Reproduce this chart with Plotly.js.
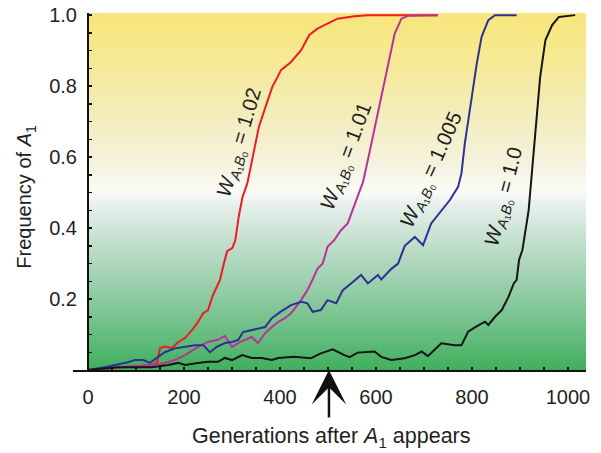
<!DOCTYPE html>
<html>
<head>
<meta charset="utf-8">
<script src="https://cdn.plot.ly/plotly-3.0.1.min.js"></script>
<style>html,body{margin:0;padding:0;background:#fff;}#chart{width:601px;height:453px;}</style>
</head>
<body>
<div id="chart"></div>
<script>
// ---- data ----
const redX = [0,63,100,133,144,150,160,175,188,202,217,229,240,250,260,269,275,283,290,301,307,314,322,332,342,356,370,384,395,402,423,444,461,478,499,520,555,583,729];
const redY = [0,0.006,0.01,0.014,0.022,0.062,0.066,0.062,0.079,0.09,0.113,0.135,0.16,0.169,0.21,0.234,0.254,0.30,0.335,0.344,0.366,0.432,0.488,0.526,0.59,0.685,0.742,0.798,0.826,0.845,0.868,0.901,0.944,0.962,0.976,0.99,0.997,1.0,1.0];

const magX = [0,63,133,160,181,202,229,250,271,285,300,313,327,341,354,369,383,396,410,423,444,457,468,478,489,499,513,527,541,562,573,586,597,607,614,628,639,653,667,729];
const magY = [0,0.008,0.014,0.02,0.028,0.042,0.065,0.079,0.085,0.096,0.065,0.076,0.085,0.093,0.076,0.104,0.121,0.135,0.146,0.16,0.197,0.225,0.255,0.285,0.30,0.347,0.366,0.394,0.413,0.49,0.53,0.61,0.68,0.75,0.798,0.883,0.948,0.99,0.998,1.0];

const bluX = [0,35,83,98,115,129,146,160,181,202,223,240,254,268,285,300,313,323,341,354,369,383,400,423,444,457,468,485,499,517,531,548,569,583,604,611,632,646,660,681,698,715,736,754,771,778,785,792,799,810,820,834,848,893];
const bluY = [0,0.008,0.022,0.028,0.028,0.02,0.037,0.05,0.061,0.066,0.07,0.07,0.05,0.065,0.076,0.079,0.085,0.107,0.113,0.118,0.121,0.146,0.163,0.183,0.192,0.188,0.164,0.169,0.197,0.188,0.225,0.244,0.268,0.244,0.268,0.255,0.285,0.30,0.35,0.375,0.352,0.413,0.45,0.479,0.516,0.554,0.638,0.704,0.77,0.864,0.939,0.986,1.0,1.0];

const blkX = [0,63,133,167,188,202,229,250,271,285,300,321,341,362,383,396,429,464,485,510,534,545,562,597,611,632,660,681,695,708,736,764,778,792,806,827,834,848,862,876,887,893,898,905,918,928,935,942,953,967,981,1015];
const blkY = [0,0.008,0.008,0.014,0.02,0.014,0.02,0.023,0.023,0.034,0.028,0.042,0.034,0.034,0.028,0.034,0.037,0.033,0.047,0.058,0.042,0.036,0.049,0.052,0.037,0.028,0.033,0.042,0.052,0.039,0.075,0.07,0.07,0.108,0.12,0.136,0.127,0.15,0.169,0.206,0.244,0.254,0.31,0.338,0.45,0.61,0.732,0.826,0.93,0.972,0.995,1.0];

const seriesLabels = ["1.02","1.01","1.005","1.0"];
const labelX = [315, 539, 716, 867];
const labelY = [0.641, 0.603, 0.563, 0.487];
const labelAngle = [-73.6, -69.7, -66, -75.7];

const yTickVals = [0.2,0.4,0.6,0.8,1.0];
const yTickText = ["0.2","0.4","0.6","0.8","1.0"];
const xTickVals = [0,200,400,600,800,1000];
const xTickText = ["0","200","400","600","800","1000"];
const arrowGen = 502;

// ---- styling ----
const FONT = "Liberation Sans, Arial, Helvetica, sans-serif";
const colors = ["#ec1c24","#b8329b","#2e3192","#151515"];
const xs = [redX, magX, bluX, blkX];
const ys = [redY, magY, bluY, blkY];

const traces = xs.map((x,i)=>({
  x: x, y: ys[i], type:'scatter', mode:'lines',
  line:{color:colors[i], width:2}, hoverinfo:'skip', showlegend:false
}));

const grad = "<svg xmlns='http://www.w3.org/2000/svg' width='10' height='100' viewBox='0 0 10 100' preserveAspectRatio='none'>" +
 "<defs><linearGradient id='g' x1='0' y1='0' x2='0' y2='1'>" +
 "<stop offset='0' stop-color='#f7e67a'/>" +
 "<stop offset='0.13' stop-color='#f6e994'/>" +
 "<stop offset='0.30' stop-color='#f3edc0'/>" +
 "<stop offset='0.43' stop-color='#f5f3e0'/>" +
 "<stop offset='0.50' stop-color='#fbfbf6'/>" +
 "<stop offset='0.54' stop-color='#e6efec'/>" +
 "<stop offset='0.66' stop-color='#bcdcc8'/>" +
 "<stop offset='0.80' stop-color='#8ccaa0'/>" +
 "<stop offset='0.93' stop-color='#5cb976'/>" +
 "<stop offset='1' stop-color='#3faf5a'/>" +
 "</linearGradient></defs><rect x='0' y='0' width='10' height='100' fill='url(#g)'/></svg>";
const gradURL = "data:image/svg+xml;charset=utf-8," + encodeURIComponent(grad);

const xMin = -31.25, xMax = 1037.5, yMax = 1.006;

const annotations = seriesLabels.map((s,i)=>({
  x: labelX[i], y: labelY[i], xref:'x', yref:'y',
  text: "<i>W</i><sub><i>A</i>\u2081<i>B</i>\u2080</sub> = " + s,
  showarrow:false, textangle: labelAngle[i],
  font:{family:FONT, size:20.5, color:'#231f20'}
}));

annotations.push({
  x: arrowGen, y: 0, xref:'x', yref:'y', text:'', showarrow:true,
  ax:0, ay:49, arrowhead:3, arrowsize:2.3, arrowwidth:2.5, arrowcolor:'#111'
});
annotations.push({
  x: 0.504, y: -0.188, xref:'paper', yref:'paper', xanchor:'center', yanchor:'middle',
  text:"Generations after <i>A</i><sub>1</sub> appears", showarrow:false,
  font:{family:FONT, size:21.5, color:'#231f20'}
});
annotations.push({
  x: -0.0926, y: 0.487, xref:'paper', yref:'paper', xanchor:'center', yanchor:'middle',
  text:"Frequency of <i>A</i><sub>1</sub>", showarrow:false, textangle:-90,
  font:{family:FONT, size:20, color:'#231f20'}
});

const layout = {
  width:601, height:453,
  margin:{l:73, r:15, t:13, b:83},
  paper_bgcolor:'#ffffff', plot_bgcolor:'#ffffff',
  font:{family:FONT, size:20, color:'#231f20'},
  xaxis:{
    range:[xMin, xMax], showgrid:false, zeroline:false,
    showline:true, linecolor:'#111', linewidth:2,
    tickvals:xTickVals, ticktext:xTickText,
    ticks:'inside', ticklen:3, tickwidth:1.5, tickcolor:'#111',
    minor:{dtick:50, tick0:0, ticks:'inside', ticklen:3, tickwidth:1.5, tickcolor:'#111'},
    tickfont:{family:FONT, size:20, color:'#231f20'},
    ticklabelstandoff:8, fixedrange:true
  },
  yaxis:{
    range:[0, yMax], showgrid:false, zeroline:false,
    anchor:'free', position:(0 - xMin)/(xMax - xMin),
    showline:true, linecolor:'#111', linewidth:2,
    tickvals:yTickVals, ticktext:yTickText,
    ticks:'inside', ticklen:3, tickwidth:1.5, tickcolor:'#111',
    minor:{dtick:0.05, tick0:0, ticks:'inside', ticklen:3, tickwidth:1.5, tickcolor:'#111'},
    tickfont:{family:FONT, size:20, color:'#231f20'},
    ticklabelstandoff:6, fixedrange:true
  },
  images:[{
    source: gradURL, xref:'x', yref:'y', x:0, y:yMax, sizex:xMax, sizey:yMax,
    xanchor:'left', yanchor:'top', sizing:'stretch', layer:'below'
  }],
  annotations: annotations,
  showlegend:false
};

Plotly.newPlot('chart', traces, layout, {staticPlot:true, displayModeBar:false});
</script>
</body>
</html>
